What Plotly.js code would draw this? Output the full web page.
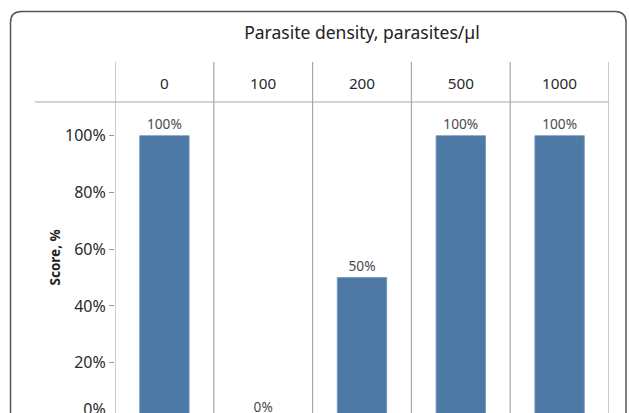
<!DOCTYPE html>
<html>
<head>
<meta charset="utf-8">
<script src="https://cdn.plot.ly/plotly-3.0.1.min.js"></script>
<style>
  html, body { margin: 0; padding: 0; background: #fff; overflow: hidden; }
  #chart { width: 629px; height: 450px; }
</style>
</head>
<body>
<div id="chart"></div>
<script>
// ---- data ----
const densities = ['0', '100', '200', '500', '1000'];
const scores = [1.0, 0.0, 0.5, 1.0, 1.0];
const scoreLabels = ['100%', '0%', '50%', '100%', '100%'];
const yTickVals = [0, 0.2, 0.4, 0.6, 0.8, 1.0];
const yTickText = ['0%<br>&nbsp;', '20%', '40%', '60%', '80%', '100%'];
const titleText = 'Parasite density, parasites/µl';
const yTitleText = 'Score, %';

// ---- geometry (pixels) ----
const W = 629, H = 450;
const L = 115, R = 609, T = 102, B = 440;
const pw = R - L, ph = B - T;
const px2paperX = p => (p - L) / pw;
const py2paperY = p => (B - p) / ph;

const FONT = 'Noto Sans, Open Sans, sans-serif';
const sepColor = '#a8a8a8';

const shapes = [];
// column separators
for (let i = 0; i <= densities.length; i++) {
  shapes.push({
    type: 'line', xref: 'x', yref: 'paper',
    x0: i - 0.5, x1: i - 0.5, y0: -0.1, y1: py2paperY(62),
    line: { color: sepColor, width: 1.2 }
  });
}
// header underline
shapes.push({
  type: 'line', xref: 'paper', yref: 'paper',
  x0: px2paperX(35), x1: 1, y0: 1, y1: 1,
  line: { color: sepColor, width: 1.2 }
});
// outer rounded frame
(function () {
  const xl = px2paperX(10.5), xr = px2paperX(626), yt = py2paperY(11.5), yb = py2paperY(470);
  const rx = 11 / pw, ry = 11 / ph;
  const path = `M ${xl},${yb} L ${xl},${yt - ry} Q ${xl},${yt} ${xl + rx},${yt} ` +
               `L ${xr - rx},${yt} Q ${xr},${yt} ${xr},${yt - ry} L ${xr},${yb}`;
  shapes.push({ type: 'path', xref: 'paper', yref: 'paper', path: path,
    line: { color: '#555', width: 1.5 } });
})();

const trace = {
  type: 'bar',
  x: densities,
  y: scores,
  text: scoreLabels,
  textposition: 'outside',
  texttemplate: '%{text}',
  constraintext: 'none',
  cliponaxis: false,
  textfont: { family: FONT, size: 13.7, color: '#4a4a4a' },
  marker: { color: '#4e79a7', line: { color: '#6f93bb', width: 0.8 } },
  width: 0.5,
  hoverinfo: 'skip'
};

const y0px = 419.4, y100px = 135.7;
const unit = y0px - y100px;
const yMin = -(B - y0px) / unit;
const yMax = (y0px - T) / unit;

const layout = {
  width: W, height: H,
  margin: { l: L, r: W - R, t: T, b: H - B, pad: 0 },
  paper_bgcolor: '#fff', plot_bgcolor: '#fff',
  font: { family: FONT, color: '#333' },
  showlegend: false,
  title: {
    text: titleText,
    font: { family: FONT, size: 17.5, color: '#222' },
    xref: 'paper', x: 0.5, xanchor: 'center',
    yref: 'container', y: 1 - 33 / H, yanchor: 'middle'
  },
  xaxis: {
    type: 'category', side: 'top',
    range: [-0.5, densities.length - 0.5],
    showgrid: false, zeroline: false, showline: false,
    ticks: '', ticklabelstandoff: 9,
    tickfont: { family: FONT, size: 15.3, color: '#2a2a2a' },
    fixedrange: true
  },
  yaxis: {
    range: [yMin, yMax],
    tickvals: yTickVals, ticktext: yTickText,
    ticks: 'outside', ticklen: 5, tickcolor: '#999', tickwidth: 1,
    showgrid: false, zeroline: false, showline: false,
    tickfont: { family: FONT, size: 16, color: '#2a2a2a' },
    automargin: false,
    fixedrange: true
  },
  annotations: [{
    text: '<b>' + yTitleText + '</b>',
    xref: 'paper', yref: 'paper',
    x: px2paperX(54), y: py2paperY(257.5),
    xanchor: 'center', yanchor: 'middle',
    textangle: -90, showarrow: false,
    font: { family: FONT, size: 13.5, color: '#222' }
  }],
  shapes: shapes,
  bargap: 0.5
};

Plotly.newPlot('chart', [trace], layout, { staticPlot: true, displayModeBar: false });
</script>
</body>
</html>
